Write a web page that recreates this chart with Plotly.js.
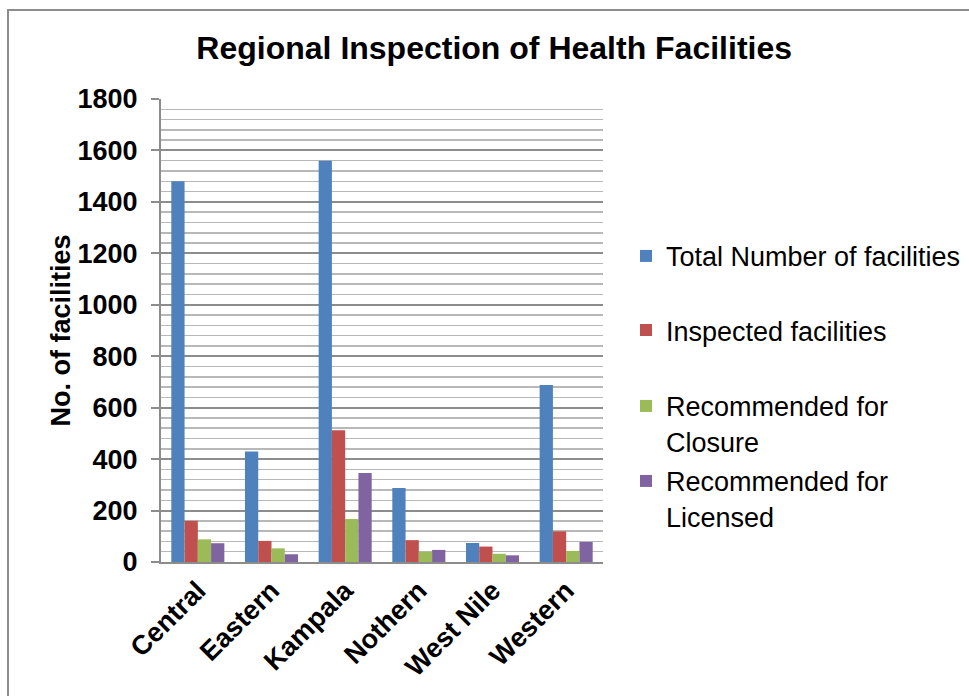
<!DOCTYPE html>
<html>
<head>
<meta charset="utf-8">
<script src="https://cdn.plot.ly/plotly-3.0.1.min.js"></script>
<style>
  html, body { margin: 0; padding: 0; background: #ffffff; overflow: hidden; }
  #chart { width: 969px; height: 696px; }
  #frame { position: absolute; left: 7px; top: 9px; width: 980px; height: 700px;
           border-left: 2px solid #8c8c8c; border-top: 2px solid #8c8c8c; pointer-events: none; }
</style>
</head>
<body>
<div id="chart"></div>
<div id="frame"></div>
<script>
const regions = ["Central", "Eastern", "Kampala", "Nothern", "West Nile", "Western"];
const totalFacilities = [1480, 430, 1560, 288, 74, 688];
const inspectedFacilities = [160, 82, 512, 85, 60, 119];
const recommendedClosure = [88, 53, 167, 40, 32, 43];
const recommendedLicensed = [73, 30, 346, 47, 26, 78];
const seriesNames = ["Total Number of facilities", "Inspected facilities", "Recommended for<br>Closure", "Recommended for<br>Licensed"];
const seriesColors = ["#4F81BD", "#C0504D", "#9BBB59", "#8064A2"];
const yTickValues = [0, 200, 400, 600, 800, 1000, 1200, 1400, 1600, 1800];

const FONT = "Arial, 'Liberation Sans', sans-serif";
const values = [totalFacilities, inspectedFacilities, recommendedClosure, recommendedLicensed];
const legendIds = ["legend", "legend2", "legend3", "legend4"];

const traces = values.map((v, i) => ({
  type: "bar",
  x: regions,
  y: v,
  name: seriesNames[i],
  legend: legendIds[i],
  marker: { color: seriesColors[i], line: { width: 0 } }
}));

function legendCfg(y) {
  return {
    x: 1.052, xanchor: "left", y: y, yanchor: "top",
    font: { family: FONT, size: 27, color: "#000000" },
    bgcolor: "rgba(0,0,0,0)", borderwidth: 0, valign: "top"
  };
}

const layout = {
  width: 969, height: 696,
  paper_bgcolor: "#ffffff", plot_bgcolor: "#ffffff",
  margin: { l: 161, r: 366, t: 99, b: 134, autoexpand: false },
  font: { family: FONT, color: "#000000" },
  title: {
    text: "<b>Regional Inspection of Health Facilities</b>",
    font: { family: FONT, size: 32, color: "#000000" },
    x: 0.51, xanchor: "center", xref: "container",
    y: 0.932, yanchor: "middle", yref: "container"
  },
  barmode: "group", bargap: 0.28, bargroupgap: 0,
  showlegend: true,
  legend: legendCfg(0.713),
  legend2: legendCfg(0.553),
  legend3: legendCfg(0.389),
  legend4: legendCfg(0.227),
  xaxis: {
    type: "category",
    tickangle: -45,
    tickfont: { family: FONT, size: 27, color: "#000000", weight: "bold" },
    showline: true, linecolor: "#8c8c8c", linewidth: 2,
    ticks: "", showgrid: false, zeroline: false,
    automargin: false
  },
  yaxis: {
    range: [0, 1800],
    tickvals: yTickValues,
    ticktext: yTickValues.map(String),
    tickfont: { family: FONT, size: 27, color: "#000000", weight: "bold" },
    ticks: "outside", ticklen: 8, tickcolor: "#8c8c8c", tickwidth: 2,
    ticklabelstandoff: 8,
    showline: true, linecolor: "#8c8c8c", linewidth: 2,
    showgrid: true, gridcolor: "#8c8c8c", gridwidth: 2,
    minor: { dtick: 40, showgrid: true, gridcolor: "#b8b8b8", gridwidth: 1.5, ticks: "" },
    zeroline: false,
    automargin: false,
    title: {
      text: "<b>No. of facilities</b>",
      font: { family: FONT, size: 27, color: "#000000" }
    }
  }
};

Plotly.newPlot("chart", traces, layout, { displayModeBar: false, staticPlot: true });
</script>
</body>
</html>
